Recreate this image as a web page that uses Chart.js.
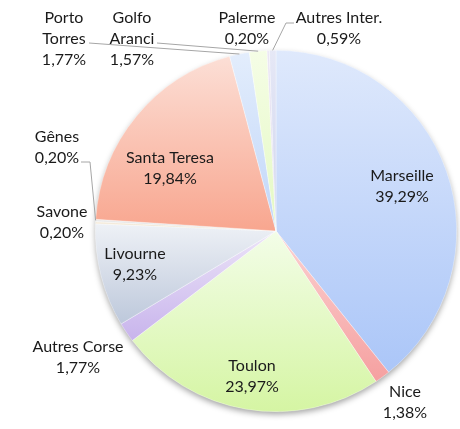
<!DOCTYPE html>
<html>
<head>
<meta charset="utf-8">
<script src="https://cdn.jsdelivr.net/npm/chart.js@4/dist/chart.umd.min.js"></script>
<style>
  html, body { margin: 0; padding: 0; background: #ffffff; }
  #c { display: block; }
</style>
</head>
<body>
<canvas id="c" width="460" height="429"></canvas>
<script>
// ---- data ----
const categories = ['Marseille', 'Nice', 'Toulon', 'Autres Corse', 'Livourne', 'Savone', 'Gênes',
  'Santa Teresa', 'Porto Torres', 'Golfo Aranci', 'Palerme', 'Autres Inter.'];
const shares = [39.29, 1.38, 23.97, 1.77, 9.23, 0.20, 0.20, 19.84, 1.77, 1.57, 0.20, 0.59];
const shareLabels = ['39,29%', '1,38%', '23,97%', '1,77%', '9,23%', '0,20%', '0,20%',
  '19,84%', '1,77%', '1,57%', '0,20%', '0,59%'];
const nameLines = [['Marseille'], ['Nice'], ['Toulon'], ['Autres Corse'], ['Livourne'], ['Savone'], ['Gênes'],
  ['Santa Teresa'], ['Porto', 'Torres'], ['Golfo', 'Aranci'], ['Palerme'], ['Autres Inter.']];

// ---- styles ----
const gradTop = ['#dfe9fc', '#fcd2d2', '#f3fde8', '#ece4f8', '#eef1f6', '#f6eee0', '#ececec',
  '#fcdfd6', '#e3edfc', '#f5fde6', '#ebe7f4', '#e6e8f6'];
const gradBottom = ['#abc6f8', '#f5a0a0', '#d5f5a3', '#c8b4ec', '#bdc8db', '#eadcc4', '#dcdcdc',
  '#f8a68f', '#c0d6f9', '#e4f9c2', '#d6cfe9', '#d0d5ee'];

// label layout (text block centre, in canvas pixels) and leader lines (bend points)
const labelPos = [[402, 186], [405, 402], [252, 376], [78, 357], [135, 264], [62, 222], [57, 147],
  [170, 168], [64, 39], [132, 39], [247, 28], [339, 28]];
const leaderFrom = {8: [[89, 43]], 9: [[157, 43]], 11: [[294, 23], [286, 23]], 6: [[81, 162], [90, 162]]};

function arcBBox(cx, cy, r, a0, a1) {
  const pts = [[cx, cy], [cx + r * Math.cos(a0), cy + r * Math.sin(a0)], [cx + r * Math.cos(a1), cy + r * Math.sin(a1)]];
  for (let k = -4; k <= 8; k++) {
    const a = k * Math.PI / 2;
    if (a > a0 && a < a1) pts.push([cx + r * Math.cos(a), cy + r * Math.sin(a)]);
  }
  const ys = pts.map(p => p[1]);
  return [Math.min(...ys), Math.max(...ys)];
}

function sliceFill(ctx) {
  const chart = ctx.chart;
  const i = ctx.dataIndex;
  const ca = chart.chartArea;
  if (!ca || i === undefined) return gradBottom[i || 0];
  const cx = (ca.left + ca.right) / 2, cy = (ca.top + ca.bottom) / 2;
  const r = Math.min(ca.right - ca.left, ca.bottom - ca.top) / 2;
  const total = shares.reduce((a, b) => a + b, 0);
  let cum = 0;
  for (let k = 0; k < i; k++) cum += shares[k];
  const a0 = -Math.PI / 2 + cum / total * 2 * Math.PI;
  const a1 = a0 + shares[i] / total * 2 * Math.PI;
  const [y0, y1] = arcBBox(cx, cy, r, a0, a1);
  const g = chart.ctx.createLinearGradient(0, y0, 0, y1 + 0.001);
  g.addColorStop(0, gradTop[i]);
  g.addColorStop(1, gradBottom[i]);
  return g;
}

const shadowPlugin = {
  id: 'pieShadow',
  beforeDatasetsDraw(chart) {
    const arc = chart.getDatasetMeta(0).data[0];
    if (!arc) return;
    const c = chart.ctx;
    c.save();
    c.shadowColor = 'rgba(0,0,0,0.38)';
    c.shadowBlur = 6;
    c.shadowOffsetX = 0;
    c.shadowOffsetY = 3;
    c.fillStyle = '#ffffff';
    c.beginPath();
    c.arc(arc.x, arc.y, arc.outerRadius - 0.5, 0, Math.PI * 2);
    c.fill();
    c.restore();
  }
};

const labelPlugin = {
  id: 'sliceLabels',
  afterDatasetsDraw(chart) {
    const c = chart.ctx;
    const arcs = chart.getDatasetMeta(0).data;
    c.save();
    // leader lines
    c.strokeStyle = '#a6a6a6';
    c.lineWidth = 1;
    Object.keys(leaderFrom).forEach(key => {
      const i = +key;
      const a = arcs[i];
      const mid = (a.startAngle + a.endAngle) / 2;
      const ex = a.x + a.outerRadius * Math.cos(mid);
      const ey = a.y + a.outerRadius * Math.sin(mid);
      const pts = leaderFrom[i];
      c.beginPath();
      c.moveTo(pts[0][0], pts[0][1]);
      for (let k = 1; k < pts.length; k++) c.lineTo(pts[k][0], pts[k][1]);
      c.lineTo(ex, ey);
      c.stroke();
    });
    // texts
    c.fillStyle = '#1a1a1a';
    c.font = '16px Lato, "Open Sans", sans-serif';
    c.textAlign = 'center';
    c.textBaseline = 'middle';
    const lh = 21;
    categories.forEach((name, i) => {
      const lines = nameLines[i].concat([shareLabels[i]]);
      const [x, y] = labelPos[i];
      const y0 = y - (lines.length - 1) * lh / 2;
      lines.forEach((t, k) => c.fillText(t, x, y0 + k * lh));
    });
    c.restore();
  }
};

new Chart(document.getElementById('c'), {
  type: 'pie',
  data: {
    labels: categories,
    datasets: [{
      data: shares,
      backgroundColor: sliceFill,
      borderWidth: 0.6,
      borderColor: 'rgba(255,255,255,0.55)'
    }]
  },
  options: {
    responsive: false,
    animation: false,
    devicePixelRatio: 1,
    layout: { padding: { left: 95, right: 3, top: 50, bottom: 17 } },
    plugins: { legend: { display: false }, tooltip: { enabled: false } }
  },
  plugins: [shadowPlugin, labelPlugin]
});
</script>
</body>
</html>
